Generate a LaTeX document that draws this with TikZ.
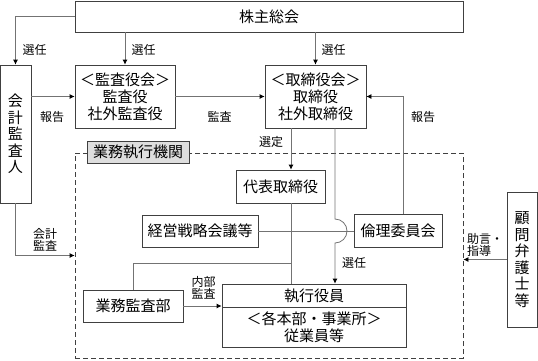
\documentclass[tikz,border=0pt]{standalone}
\usepackage{fontspec}
\setmainfont{Noto Sans CJK JP}
\usepackage{xcolor}
\usepackage{tikz}
\usetikzlibrary{arrows.meta, positioning}

\begin{document}
\begin{tikzpicture}[
    x=1pt, y=-1pt,
    box/.style={draw=black!75, line width=0.8pt, fill=white, align=center, inner sep=0pt, font=\fontsize{15}{17}\selectfont},
    vbox/.style={box, font=\fontsize{15}{16.5}\selectfont},
    tag_box/.style={box, fill=black!13},
    org_frame/.style={draw=black!75, line width=0.8pt, dashed, dash pattern=on 5pt off 3pt},
    lbl/.style={align=left, inner sep=0pt, font=\fontsize{12}{12.5}\selectfont},
    arr/.style={draw=black!55, line width=0.8pt, -{Latex[length=5pt, width=5pt, black]}},
    link_line/.style={draw=black!55, line width=0.8pt}
]
    \useasboundingbox (0,0) rectangle (538,360);

    % Execution body frame
    \node (kikan) [org_frame, minimum width=388pt, minimum height=205pt] at (269,255.5) {};
    \node (kikan_tag) [tag_box, minimum width=102pt, minimum height=22pt] at (138,152) {業務執行機関};

    % Boxes
    \node (soukai) [box, minimum width=388pt, minimum height=31pt] at (269,16.5) {株主総会};
    \node (kaikei) [vbox, minimum width=31pt, minimum height=138pt] at (15.5,134) {会\\計\\監\\査\\人};
    \node (kansa) [box, minimum width=100pt, minimum height=63pt] at (125,96.5) {＜監査役会＞\\監査役\\社外監査役};
    \node (torishimari) [box, minimum width=101pt, minimum height=63pt] at (315.5,96.5) {＜取締役会＞\\取締役\\社外取締役};
    \node (daihyo) [box, minimum width=89pt, minimum height=33pt] at (280.5,186.5) {代表取締役};
    \node (senryaku) [box, minimum width=116pt, minimum height=32pt] at (200,231) {経営戦略会議等};
    \node (rinri) [box, minimum width=88pt, minimum height=33pt] at (398,231) {倫理委員会};
    \node (kansabu) [box, minimum width=100pt, minimum height=32pt] at (133,306) {業務監査部};
    \node (shikko) [box, minimum width=184pt, minimum height=23pt] at (314,295.5) {執行役員};
    \node (jugyo) [box, minimum width=184pt, minimum height=40pt] at (314,327) {＜各本部・事業所＞\\従業員等};
    \node (komon) [vbox, minimum width=30pt, minimum height=135pt] at (522,259.5) {顧\\問\\弁\\護\\士\\等};

    % Connectors
    \coordinate (sentei) at ([xshift=-24.5pt]torishimari.south);
    \coordinate (senin) at ([xshift=19.5pt]torishimari.south);
    \coordinate (hop) at (senin |- senryaku.east);
    \coordinate (kansa_join) at (sentei |- kansabu.north);
    \coordinate (kansa_join) at ([yshift=26pt]kansa_join);

    \draw [arr] (soukai.west) -| (kaikei.north);
    \draw [arr] (soukai.south -| kansa.north) -- (kansa.north);
    \draw [arr] (soukai.south -| torishimari.north) -- (torishimari.north);
    \draw [arr] (kaikei.east |- kansa.west) -- (kansa.west);
    \draw [arr] (kansa.east) -- (torishimari.west);
    \draw [arr] ([xshift=5pt]rinri.north) |- (torishimari.east);
    \draw [arr] (sentei) -- (sentei |- daihyo.north);
    \draw [link_line] (sentei |- daihyo.south) -- (sentei |- shikko.north);
    \draw [link_line] (senryaku.east) -- (senryaku.east -| rinri.west);
    \draw [arr] (senin) -- ([yshift=12pt]hop) arc[start angle=-90, end angle=90, radius=12] -- (senin |- shikko.north);
    \draw [link_line] (kansabu.north) |- (kansa_join);
    \draw [arr] (kansabu.east) -- (kansabu.east -| shikko.west);
    \draw [arr] (kaikei.south) |- (kikan.west);
    \draw [arr] (komon.west) -- (komon.west -| kikan.east);

    % Labels
    \node (l_senin1) [lbl] at (34.5,50) {選任};
    \node (l_senin2) [lbl] at (143.5,50) {選任};
    \node (l_senin3) [lbl] at (333.5,50) {選任};
    \node (l_houkoku1) [lbl] at (52,117) {報告};
    \node (l_kansa) [lbl] at (219.5,117) {監査};
    \node (l_houkoku2) [lbl] at (423,117) {報告};
    \node (l_sentei) [lbl] at (271,142) {選定};
    \node (l_senin4) [lbl] at (354,263) {選任};
    \node (l_kaikei) [lbl] at (45,240) {会計\\監査};
    \node (l_naibu) [lbl] at (203.5,288) {内部\\監査};
    \node (l_jogen) [lbl] at (485,245) {助言・\\指導};
\end{tikzpicture}
\end{document}
